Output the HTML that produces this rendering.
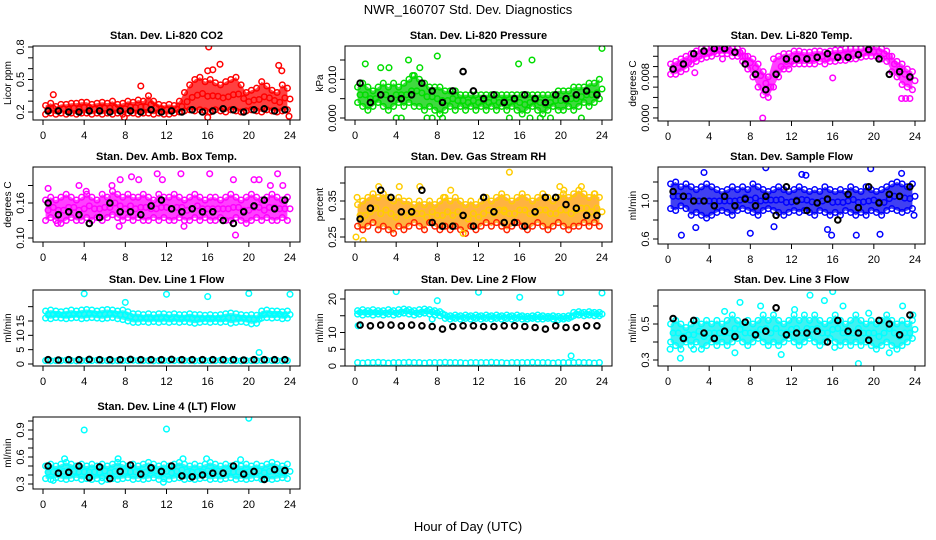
<!DOCTYPE html>
<html><head><meta charset="utf-8">
<style>
body{margin:0;background:#fff;}
svg{display:block;font-family:"Liberation Sans",Arial,sans-serif;}
</style></head>
<body>
<svg id="chart" width="936" height="540" viewBox="0 0 936 540" xmlns="http://www.w3.org/2000/svg">
<rect width="936" height="540" fill="#fff"/>
<text x="468" y="14" text-anchor="middle" font-size="13">NWR_160707  Std. Dev. Diagnostics</text>
<text x="468" y="531" text-anchor="middle" font-size="13">Hour of Day (UTC)</text>
</svg>
<script>
const H48=[0.25,0.75,1.25,1.75,2.25,2.75,3.25,3.75,4.25,4.75,5.25,5.75,6.25,6.75,7.25,7.75,8.25,8.75,9.25,9.75,10.25,10.75,11.25,11.75,12.25,12.75,13.25,13.75,14.25,14.75,15.25,15.75,16.25,16.75,17.25,17.75,18.25,18.75,19.25,19.75,20.25,20.75,21.25,21.75,22.25,22.75,23.25,23.75];
const H24=[0.5,1.5,2.5,3.5,4.5,5.5,6.5,7.5,8.5,9.5,10.5,11.5,12.5,13.5,14.5,15.5,16.5,17.5,18.5,19.5,20.5,21.5,22.5,23.5];
const xTicks=[0,4,8,12,16,20,24];

const titles=["Stan. Dev. Li-820 CO2","Stan. Dev. Li-820 Pressure","Stan. Dev. Li-820 Temp.","Stan. Dev. Amb. Box Temp.","Stan. Dev. Gas Stream RH","Stan. Dev. Sample Flow","Stan. Dev. Line 1 Flow","Stan. Dev. Line 2 Flow","Stan. Dev. Line 3 Flow","Stan. Dev. Line 4 (LT) Flow"];
const yTitles=["Licor ppm","kPa","degrees C","degrees C","percent","ml/min","ml/min","ml/min","ml/min","ml/min"];

// panel 1 CO2
const lo1=[0.18,0.19,0.18,0.19,0.18,0.19,0.18,0.19,0.19,0.18,0.19,0.18,0.19,0.18,0.19,0.18,0.19,0.19,0.18,0.19,0.19,0.18,0.19,0.18,0.18,0.19,0.2,0.21,0.22,0.21,0.22,0.21,0.2,0.22,0.21,0.2,0.22,0.21,0.2,0.21,0.22,0.21,0.2,0.22,0.21,0.2,0.21,0.22];
const hi1=[0.26,0.28,0.25,0.27,0.27,0.28,0.28,0.29,0.29,0.27,0.28,0.29,0.28,0.3,0.27,0.28,0.3,0.29,0.31,0.3,0.35,0.3,0.27,0.26,0.27,0.26,0.3,0.38,0.45,0.5,0.52,0.48,0.5,0.47,0.45,0.48,0.5,0.52,0.45,0.38,0.4,0.42,0.48,0.44,0.4,0.38,0.45,0.42];
const outX1=[16.1,17.2,22.9,23.2,16,16.5,9.5,1,7.9,16,23.9];
const outY1=[0.8,0.64,0.63,0.58,0.58,0.59,0.44,0.36,0.15,0.15,0.16];
const blk1=[0.21,0.21,0.2,0.2,0.21,0.21,0.2,0.21,0.21,0.2,0.22,0.2,0.21,0.2,0.22,0.2,0.21,0.23,0.22,0.2,0.22,0.23,0.21,0.22];
const yt1=[0.2,0.3,0.4,0.5,0.6,0.7,0.8]; const yl1=["0.2","","","0.5","","","0.8"];
// panel 2 pressure
const lo2=[0.004,0.003,0.002,0.003,0.004,0.003,0.002,0.003,0.004,0.003,0.004,0.003,0.003,0.002,0.003,0.002,0.001,0.002,0.003,0.002,0.003,0.002,0.003,0.002,0.003,0.002,0.003,0.002,0.003,0.002,0.003,0.002,0.001,0.002,0.003,0.002,0.001,0.002,0.003,0.002,0.002,0.003,0.002,0.003,0.004,0.003,0.004,0.005];
const hi2=[0.008,0.009,0.008,0.007,0.008,0.009,0.008,0.009,0.008,0.009,0.010,0.011,0.010,0.009,0.008,0.008,0.008,0.007,0.007,0.007,0.006,0.006,0.006,0.006,0.006,0.006,0.006,0.006,0.006,0.006,0.006,0.006,0.006,0.006,0.006,0.006,0.006,0.006,0.006,0.007,0.007,0.007,0.008,0.008,0.008,0.009,0.009,0.010];
const outX2=[1,2.5,3.3,5.2,6.3,8,5.6,4,4.5,7,7.5,8.5,15,17,18,19,22,24,17.2,15.9];
const outY2=[0.014,0.013,0.013,0.015,0.013,0.016,0.011,0,0,0,0,0,0,0,0,0,0,0.018,0.015,0.014];
const blk2=[0.009,0.004,0.006,0.005,0.005,0.006,0.009,0.007,0.004,0.007,0.012,0.007,0.005,0.006,0.004,0.005,0.006,0.005,0.004,0.006,0.005,0.006,0.007,0.006];
const yt2=[0,0.005,0.01,0.015]; const yl2=["0.000","","0.010",""];
// panel 3 temp
const lo3=[0.0085,0.0085,0.009,0.0095,0.0105,0.011,0.0115,0.0118,0.012,0.0125,0.0125,0.0125,0.012,0.012,0.011,0.0095,0.008,0.006,0.0045,0.004,0.006,0.008,0.0095,0.0095,0.0105,0.0105,0.0105,0.0105,0.0105,0.011,0.0105,0.011,0.011,0.0112,0.0112,0.0115,0.0115,0.0118,0.012,0.012,0.012,0.0115,0.011,0.009,0.008,0.0065,0.006,0.0055];
const hi3=[0.0105,0.011,0.0115,0.012,0.0125,0.013,0.0135,0.0135,0.0138,0.0138,0.0138,0.0138,0.0135,0.0135,0.013,0.012,0.0115,0.0105,0.009,0.008,0.0115,0.012,0.0125,0.0125,0.013,0.013,0.0128,0.0128,0.013,0.013,0.0128,0.013,0.0132,0.0132,0.0135,0.0135,0.0135,0.0135,0.0138,0.0138,0.0138,0.0135,0.013,0.012,0.011,0.0105,0.0095,0.009];
const outX3=[9.2,22.7,23.1,23.5,16,2.6,5.3];
const outY3=[0.0,0.0038,0.0038,0.0038,0.0078,0.0088,0.0115];
const blk3=[0.0095,0.0105,0.0125,0.013,0.0135,0.0135,0.0128,0.0105,0.0085,0.0055,0.0085,0.0115,0.0115,0.0115,0.0118,0.0125,0.0118,0.0118,0.0123,0.0133,0.0115,0.0085,0.009,0.008];
const yt3=[0,0.002,0.004,0.006,0.008,0.01,0.012,0.014]; const yl3=["0.000","","","","0.008","","",""];
// panel 4 amb box
const lo4=[0.13,0.135,0.13,0.125,0.13,0.135,0.13,0.13,0.135,0.13,0.135,0.13,0.135,0.14,0.135,0.13,0.135,0.13,0.135,0.13,0.13,0.135,0.13,0.135,0.13,0.13,0.135,0.13,0.13,0.135,0.13,0.135,0.13,0.13,0.135,0.13,0.13,0.135,0.13,0.125,0.13,0.135,0.13,0.135,0.13,0.13,0.135,0.13];
const hi4=[0.165,0.17,0.165,0.17,0.175,0.17,0.165,0.17,0.175,0.17,0.165,0.175,0.17,0.18,0.175,0.17,0.175,0.17,0.17,0.175,0.17,0.165,0.175,0.17,0.17,0.175,0.17,0.165,0.17,0.175,0.17,0.165,0.17,0.17,0.165,0.17,0.175,0.17,0.165,0.17,0.175,0.17,0.165,0.17,0.175,0.17,0.165,0.17];
const outX4=[0.5,3.5,4.2,6.7,7.5,8.6,9.3,11.1,11.6,13.4,16.2,18.5,18.7,20.5,21,22.1,22.8,23.3,1.4,7.4,13.7];
const outY4=[0.185,0.19,0.18,0.19,0.2,0.205,0.2,0.21,0.2,0.21,0.21,0.2,0.105,0.2,0.2,0.19,0.21,0.19,0.125,0.12,0.12];
const blk4=[0.16,0.14,0.145,0.14,0.125,0.135,0.16,0.145,0.145,0.14,0.155,0.165,0.15,0.145,0.15,0.145,0.145,0.13,0.125,0.145,0.155,0.165,0.15,0.165];
const yt4=[0.1,0.13,0.16,0.19]; const yl4=["0.10","","0.16",""];
// panel 5 RH
const lo5=[0.28,0.27,0.28,0.29,0.27,0.28,0.27,0.26,0.28,0.27,0.28,0.29,0.28,0.27,0.29,0.28,0.27,0.28,0.27,0.28,0.27,0.26,0.28,0.27,0.28,0.29,0.28,0.29,0.28,0.27,0.28,0.29,0.28,0.27,0.28,0.29,0.28,0.27,0.28,0.29,0.28,0.27,0.28,0.28,0.29,0.28,0.29,0.28];
const hi5=[0.34,0.35,0.36,0.37,0.36,0.37,0.36,0.35,0.36,0.35,0.35,0.34,0.35,0.34,0.35,0.34,0.35,0.36,0.35,0.36,0.35,0.34,0.35,0.34,0.35,0.36,0.35,0.36,0.37,0.36,0.35,0.36,0.37,0.36,0.35,0.36,0.37,0.36,0.35,0.36,0.37,0.36,0.37,0.38,0.37,0.36,0.37,0.36];
const outX5=[0.1,0.2,2.3,4.3,6.3,8.6,9.3,10.5,15,19.9,20.3,22,23.3,0.8,14.5];
const outY5=[0.25,0.36,0.39,0.39,0.39,0.36,0.38,0.26,0.43,0.39,0.38,0.39,0.37,0.24,0.32];
const blk5=[0.3,0.33,0.38,0.36,0.32,0.32,0.38,0.29,0.28,0.28,0.31,0.28,0.36,0.32,0.29,0.29,0.28,0.32,0.36,0.36,0.34,0.33,0.31,0.31];
const yt5=[0.25,0.3,0.35,0.4]; const yl5=["0.25","","0.35",""];
// panel 6 sample flow
const lo6=[0.92,0.9,0.95,0.92,0.85,0.88,0.85,0.82,0.85,0.88,0.9,0.88,0.85,0.9,0.92,0.9,0.88,0.85,0.9,0.92,0.9,0.88,0.85,0.88,0.9,0.88,0.9,0.88,0.85,0.9,0.88,0.85,0.88,0.85,0.9,0.88,0.85,0.88,0.85,0.9,0.88,0.85,0.9,0.92,0.9,0.88,0.9,0.92];
const hi6=[1.18,1.2,1.15,1.18,1.15,1.12,1.15,1.18,1.15,1.12,1.1,1.12,1.15,1.12,1.15,1.12,1.18,1.15,1.12,1.1,1.12,1.15,1.12,1.1,1.12,1.15,1.12,1.1,1.12,1.1,1.15,1.12,1.1,1.12,1.1,1.15,1.12,1.1,1.15,1.12,1.1,1.12,1.15,1.18,1.2,1.18,1.15,1.18];
const outX6=[1.3,2.7,3.5,9.5,13,13.4,15.5,15.9,18.3,19.7,20.6,22.7,23.9,8,10.3];
const outY6=[0.64,0.72,1.3,1.35,1.28,1.27,0.7,0.64,0.64,1.34,0.65,1.29,0.85,0.66,0.73];
const blk6=[1.1,1.05,1.0,1.0,0.95,1.05,0.95,1.02,0.95,1.05,0.85,1.15,1.0,0.9,0.98,1.02,0.8,1.07,0.93,1.15,0.98,1.07,1.05,1.15];
const yt6=[0.6,0.8,1.0,1.2]; const yl6=["0.6","","1.0",""];
// panel 7 line1
const lo7=[16,15.8,16.2,16,15.8,16,16.2,15.8,16,16.2,16,15.8,16,16.2,15.8,15.5,15,14.5,14.5,14.8,14.5,14.8,14.5,14.8,14.5,14.8,14.5,14.8,14.5,14.2,14.5,14.8,14.5,14.8,14.5,14.8,14.2,14.5,14.8,14.5,14,14.2,16,16.2,16,16.2,15.8,16];
const hi7=[18.5,18.8,18.5,18.2,18.5,18.8,18.5,18.8,19,18.8,18.5,18.8,19,18.8,18.5,18.8,18.2,17.5,17.5,17.2,17.5,17.2,17.5,17.5,17.2,17.5,17.2,17.2,17.5,17.2,17.2,17,17.2,17,17.2,17.5,17.8,17.5,17.2,17,17.2,17,18.5,18.8,18.5,18.5,18.2,18.5];
const base7=[1.2,1.1,1.2,1.2,1.3,1.2,1.1,1.2,1.2,1.2,1.3,1.2,1.2,1.1,1.2,1.2,1.2,1.3,1.2,1.2,1.2,1.1,1.2,1.2,1.2,1.2,1.3,1.2,1.2,1.1,1.2,1.2,1.2,1.2,1.3,1.2,1.2,1.2,1.1,1.2,1.2,1.2,1.2,1.3,1.2,1.2,1.1,1.2];
const outX7=[4,12,16,20,24,8,21];
const outY7=[24.5,24.3,23.5,24.6,24.3,21.5,4];
const blk7=[1.5,1.4,1.5,1.5,1.6,1.5,1.5,1.5,1.6,1.5,1.5,1.5,1.6,1.5,1.5,1.5,1.5,1.5,1.5,1.4,1.5,1.5,1.5,1.5];
const yt7=[0,5,10,15,20]; const yl7=["0","5","10","15",""];
// panel 8 line2
const lo8=[15.5,15.2,15.5,15.2,15.5,15.2,15.5,15.2,15.5,15.8,15.5,15.2,15.5,15.8,15.5,15.2,15,14.2,14,14.2,14,14.2,14,14.2,14,14.2,14,14.2,14,14.2,14,14.2,14,14,14.2,14,14,14.2,14,13.8,14,14.2,15,15.2,15,15.2,15,15];
const hi8=[16.5,16.8,16.5,16.8,16.5,16.5,16.8,16.5,16.8,17,16.8,16.5,16.8,17,16.8,16.5,16.2,15.2,15,15.2,15,15.2,15,15.2,15,15.2,15,15.2,15,15.2,15,15.2,15,14.8,15,15.2,15,14.8,15,14.8,14.8,15,16,16.2,16,16.2,16,16];
const base8=[1,0.9,1,1,1.1,1,0.9,1,1,1,1.1,1,1,0.9,1,1,1,1.1,1,1,1,0.9,1,1,1,1,1.1,1,1,0.9,1,1,1,1,1.1,1,1,1,0.9,1,1,1,1,1.1,1,1,0.9,1];
const outX8=[4,12,20,24,8,16,21,7.5,0.3];
const outY8=[22.2,22,21.9,21.8,19.5,20.5,3,14,12];
const blk8=[12.2,12,12.2,12.2,12,12.2,12,11.8,11,11.8,12,12,11.8,11.8,12,12,11.8,11.5,11,12,11.5,11.5,12,12];
const yt8=[0,5,10,15,20]; const yl8=["0","5","10","","20"];
// panel 9 line3
const lo9=[0.4,0.38,0.36,0.4,0.38,0.4,0.36,0.38,0.4,0.38,0.4,0.38,0.4,0.42,0.4,0.38,0.4,0.42,0.4,0.38,0.4,0.38,0.4,0.42,0.4,0.38,0.4,0.42,0.4,0.38,0.4,0.42,0.4,0.38,0.4,0.38,0.4,0.38,0.4,0.38,0.36,0.38,0.4,0.38,0.36,0.38,0.4,0.42];
const hi9=[0.5,0.52,0.5,0.48,0.5,0.52,0.5,0.52,0.5,0.52,0.5,0.52,0.55,0.52,0.5,0.52,0.5,0.52,0.55,0.52,0.55,0.52,0.5,0.52,0.55,0.52,0.55,0.52,0.55,0.52,0.5,0.52,0.55,0.52,0.5,0.52,0.55,0.52,0.5,0.52,0.5,0.52,0.55,0.52,0.5,0.52,0.5,0.52];
const outX9=[0.2,1.2,5.5,7,9,12.3,13.8,15.2,16,17,18.5,19.5,22.8,23.8,11,6.5,2.5,16.2,21.5];
const outY9=[0.36,0.31,0.57,0.62,0.6,0.58,0.66,0.63,0.68,0.6,0.28,0.56,0.6,0.55,0.33,0.34,0.36,0.37,0.34];
const blk9=[0.53,0.42,0.52,0.45,0.42,0.46,0.43,0.51,0.44,0.46,0.59,0.44,0.45,0.45,0.46,0.4,0.52,0.46,0.45,0.41,0.52,0.5,0.44,0.55];
const yt9=[0.3,0.4,0.5,0.6]; const yl9=["0.3","","0.5",""];
// panel 10 line4
const lo10=[0.36,0.35,0.37,0.36,0.35,0.36,0.37,0.35,0.36,0.35,0.36,0.37,0.35,0.36,0.35,0.36,0.37,0.35,0.36,0.35,0.36,0.37,0.35,0.36,0.35,0.36,0.37,0.35,0.36,0.35,0.36,0.37,0.35,0.36,0.35,0.36,0.37,0.35,0.36,0.35,0.36,0.37,0.35,0.36,0.35,0.36,0.37,0.36];
const hi10=[0.5,0.52,0.5,0.52,0.54,0.52,0.5,0.52,0.5,0.52,0.5,0.52,0.5,0.52,0.54,0.52,0.5,0.52,0.5,0.52,0.54,0.52,0.5,0.52,0.5,0.52,0.54,0.52,0.5,0.52,0.5,0.52,0.54,0.52,0.5,0.52,0.5,0.52,0.5,0.52,0.5,0.52,0.5,0.52,0.54,0.52,0.5,0.52];
const outX10=[4,12,20,2.1,7.3,13.6,15.9,19.2,1,11.7,5.7];
const outY10=[0.9,0.91,1.03,0.58,0.58,0.58,0.58,0.57,0.34,0.32,0.33];
const blk10=[0.5,0.42,0.43,0.5,0.37,0.49,0.36,0.44,0.51,0.41,0.48,0.44,0.5,0.39,0.38,0.4,0.42,0.42,0.5,0.41,0.44,0.35,0.46,0.45];
const yt10=[0.3,0.4,0.5,0.6,0.7,0.8,0.9,1.0]; const yl10=["0.3","","","0.6","","","0.9",""];

const NS="http://www.w3.org/2000/svg";
const svg=document.getElementById('chart');
function mk(tag,attrs,parent){const e=document.createElementNS(NS,tag);for(const k in attrs)e.setAttribute(k,attrs[k]);(parent||svg).appendChild(e);return e;}

// layout: [x0,y0,x1,y1, v0,p0,v1,p1] (pixel mapping for y)
const panels=[
 {b:[33,46,300,120],ym:[0.2,112,0.8,47],lo:lo1,hi:hi1,base:null,ox:outX1,oy:outY1,blk:blk1,yt:yt1,yl:yl1,col:"#ff0000",fill:"#ff0000"},
 {b:[345,46,612,120],ym:[0,118,0.015,60],lo:lo2,hi:hi2,base:null,ox:outX2,oy:outY2,blk:blk2,yt:yt2,yl:yl2,col:"#00dd00",fill:"#00cc00"},
 {b:[658,46,925,121],ym:[0,118,0.014,46],lo:lo3,hi:hi3,base:null,ox:outX3,oy:outY3,blk:blk3,yt:yt3,yl:yl3,col:"#ff00ff",fill:"#ff00ff"},
 {b:[33,167,300,242],ym:[0.1,238,0.16,203],lo:lo4,hi:hi4,base:null,ox:outX4,oy:outY4,blk:blk4,yt:yt4,yl:yl4,col:"#ff00ff",fill:"#ff00ff"},
 {b:[345,167,612,242],ym:[0.25,237,0.35,201],lo:lo5,hi:hi5,base:null,ox:outX5,oy:outY5,blk:blk5,yt:yt5,yl:yl5,col:"#ffcc00",fill:"#ff9900",col2:"#ff2200"},
 {b:[658,167,925,244],ym:[0.6,239,1.0,201],lo:lo6,hi:hi6,base:null,ox:outX6,oy:outY6,blk:blk6,yt:yt6,yl:yl6,col:"#0000ff",fill:"#0000ee"},
 {b:[33,290,300,366],ym:[0,364,15,321],lo:lo7,hi:hi7,base:base7,ox:outX7,oy:outY7,blk:blk7,yt:yt7,yl:yl7,col:"#00ffff",fill:"#00eeee"},
 {b:[345,290,612,366],ym:[0,366,20,299],lo:lo8,hi:hi8,base:base8,ox:outX8,oy:outY8,blk:blk8,yt:yt8,yl:yl8,col:"#00ffff",fill:"#00eeee"},
 {b:[658,290,925,366],ym:[0.3,360,0.5,324],lo:lo9,hi:hi9,base:null,ox:outX9,oy:outY9,blk:blk9,yt:yt9,yl:yl9,col:"#00ffff",fill:"#00eeee"},
 {b:[33,417,300,489],ym:[0.3,484,0.6,457],lo:lo10,hi:hi10,base:null,ox:outX10,oy:outY10,blk:blk10,yt:yt10,yl:yl10,col:"#00ffff",fill:"#00eeee"}
];

panels.forEach((p,i)=>{
  const [x0,y0,x1,y1]=p.b;
  const xs=h=>x0+10+h*(x1-x0-20)/24;
  const [v0,p0,v1,p1]=p.ym;
  const ys=v=>p0+(v-v0)*(p1-p0)/(v1-v0);
  const g=mk('g',{});
  
  
  const clip=mk('clipPath',{id:'c'+i},g);
  mk('rect',{x:x0,y:y0,width:x1-x0,height:y1-y0},clip);
  const t=mk('text',{x:(x0+x1)/2,y:y0-7,'text-anchor':'middle','font-size':11,'font-weight':'bold'},g);
  t.textContent=titles[i];
  
  
  const pts=mk('g',{'clip-path':'url(#c'+i+')'},g);
  
  
  // band
  let d='';
  H48.forEach((h,k)=>{d+=(k?'L':'M')+xs(h).toFixed(1)+','+ys(p.hi[k]).toFixed(1);});
  for(let k=H48.length-1;k>=0;k--)d+='L'+xs(H48[k]).toFixed(1)+','+ys(p.lo[k]).toFixed(1);
  const band=mk('path',{d:d+'Z',fill:p.fill,opacity:0.75},pts);
  
  
  const circ=(x,y,c,w)=>{const e=mk('circle',{cx:x.toFixed(1),cy:y.toFixed(1),r:2.8,fill:'none',stroke:c,'stroke-width':w},pts);return e;};
  H48.forEach((h,k)=>{
    const a=circ(xs(h),ys(p.hi[k]),p.col,1.5);
    
    
    const b=circ(xs(h),ys(p.lo[k]),p.col2||p.col,1.5);
    
    
    const m=circ(xs(h+0.25),ys((p.lo[k]+p.hi[k])/2),p.col,1.5);
    
    
    if(p.base){
      const c=circ(xs(h),ys(p.base[k]),p.col,1.5);
      
      
    }
  });
  p.ox.forEach((h,k)=>{
    const o=circ(xs(h),ys(p.oy[k]),p.col,1.5);
    
    
  });
  H24.forEach((h,k)=>{
    const c=circ(xs(h),ys(p.blk[k]),'#000',2);
    
    
  });
  const box=mk('rect',{x:x0,y:y0,width:x1-x0,height:y1-y0,fill:'none',stroke:'#000','stroke-width':1},g);
  
  
  xTicks.forEach(v=>{
    const x=xs(v);
    mk('line',{x1:x,y1:y1,x2:x,y2:y1+5,stroke:'#000'},g);
    const tl=mk('text',{x:x,y:y1+19,'text-anchor':'middle','font-size':11},g);
    tl.textContent=v;
    
    
  });
  p.yt.forEach((v,k)=>{
    const y=ys(v);
    if(y<y0-1||y>y1+1)return;
    mk('line',{x1:x0,y1:y,x2:x0-5,y2:y,stroke:'#000'},g);
    if(p.yl[k]){
      const tl=mk('text',{x:x0-9,y:y,'text-anchor':'middle','font-size':11,transform:'rotate(-90 '+(x0-9)+' '+y+')'},g);
      tl.textContent=p.yl[k];
      
      
    }
  });
  const yc=(y0+y1)/2;
  const yt=mk('text',{x:x0-22,y:yc,'text-anchor':'middle','font-size':10,transform:'rotate(-90 '+(x0-22)+' '+yc+')'},g);
  yt.textContent=yTitles[i];
  
  
});
</script>
</body></html>
